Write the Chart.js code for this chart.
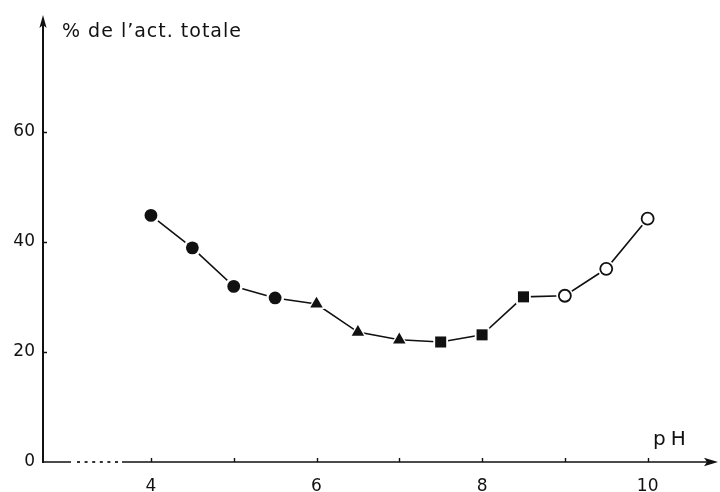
<!DOCTYPE html>
<html>
<head>
<meta charset="utf-8">
<script src="https://cdn.jsdelivr.net/npm/chart.js@4/dist/chart.umd.min.js"></script>
<style>
  html, body { margin: 0; padding: 0; background: #fff; }
  canvas { display: block; }
</style>
</head>
<body>
<canvas id="chart" width="720" height="492"></canvas>
<script>
// pH profile of the activity, as a percentage of the total activity
const phValues    = [4, 4.5, 5, 5.5, 6, 6.5, 7, 7.5, 8, 8.5, 9, 9.5, 10];
const activityPct = [44.8, 38.9, 31.9, 29.8, 28.7, 23.6, 22.2, 21.8, 23.1, 30.0, 30.2, 35.1, 44.2];
// buffer series each point belongs to (marker kind)
const markerKind  = ['disc', 'disc', 'disc', 'disc',
                     'triangle', 'triangle', 'triangle',
                     'square', 'square', 'square',
                     'ring', 'ring', 'ring'];

const xTickValues  = [4, 5, 6, 7, 8, 9, 10];
const xLabelValues = [4, 6, 8, 10];
const yTickValues  = [0, 20, 40, 60];
const yAxisTitle   = '% de l\u2019act. totale';
const xAxisTitle   = 'pH';

const INK  = '#111';
const FONT = "'DejaVu Sans', sans-serif";

const markerStyle = {
  disc:     { shape: 'circle',   r: 6.4, fill: INK,    border: INK, bw: 0 },
  triangle: { shape: 'triangle', r: 7.2, fill: INK,    border: INK, bw: 0 },
  square:   { shape: 'rect',     r: 7.8, fill: INK,    border: INK, bw: 0 },
  ring:     { shape: 'circle',   r: 6.0, fill: '#fff', border: INK, bw: 1.8 }
};
const HALO = 2.6;

const points = phValues.map((x, i) => ({ x, y: activityPct[i] }));
const st = markerKind.map(k => markerStyle[k]);

// axes with arrowheads, a broken pH axis, small ticks and the two axis captions
const handAxes = {
  id: 'handAxes',
  beforeDatasetsDraw(chart) {
    const { ctx, chartArea: a, scales: { x, y } } = chart;
    const x0 = a.left;
    const y0 = y.getPixelForValue(0);
    ctx.save();
    ctx.strokeStyle = INK;
    ctx.fillStyle = INK;
    ctx.lineCap = 'butt';

    // vertical axis
    ctx.lineWidth = 2;
    ctx.beginPath();
    ctx.moveTo(x0, y0 + 1);
    ctx.lineTo(x0, a.top + 8);
    ctx.stroke();
    ctx.beginPath();
    ctx.moveTo(x0, a.top);
    ctx.lineTo(x0 + 3.6, a.top + 13);
    ctx.lineTo(x0, a.top + 10);
    ctx.lineTo(x0 - 3.6, a.top + 13);
    ctx.closePath();
    ctx.fill();

    // horizontal axis: solid, dotted break, solid
    ctx.lineWidth = 1.7;
    ctx.beginPath();
    ctx.moveTo(x0, y0);
    ctx.lineTo(x0 + 28, y0);
    ctx.moveTo(x0 + 79, y0);
    ctx.lineTo(a.right - 8, y0);
    ctx.stroke();
    for (let dx = 34; dx <= 72; dx += 7.6) {
      ctx.fillRect(x0 + dx, y0 - 0.85, 3, 1.7);
    }
    ctx.beginPath();
    ctx.moveTo(a.right, y0);
    ctx.lineTo(a.right - 14, y0 - 4.2);
    ctx.lineTo(a.right - 11, y0);
    ctx.lineTo(a.right - 14, y0 + 4.2);
    ctx.closePath();
    ctx.fill();

    // tick marks
    ctx.lineWidth = 1.4;
    ctx.beginPath();
    xTickValues.forEach(v => {
      const px = Math.round(x.getPixelForValue(v)) + 0.5;
      ctx.moveTo(px, y0);
      ctx.lineTo(px, y0 - 4);
    });
    yTickValues.filter(v => v !== 0).forEach(v => {
      const py = Math.round(y.getPixelForValue(v)) + 0.5;
      ctx.moveTo(x0, py);
      ctx.lineTo(x0 + 4, py);
    });
    ctx.stroke();

    // captions
    ctx.textBaseline = 'middle';
    ctx.textAlign = 'left';
    ctx.font = `19px ${FONT}`;
    ctx.letterSpacing = '1px';
    ctx.fillText(yAxisTitle, x0 + 19, 32);
    ctx.font = `20px ${FONT}`;
    ctx.letterSpacing = '5px';
    ctx.fillText(xAxisTitle, 653, 440);
    ctx.restore();
  }
};

const noEdgePadding = s => {
  s.paddingLeft = 0; s.paddingRight = 0; s.paddingTop = 0; s.paddingBottom = 0;
};

new Chart(document.getElementById('chart'), {
  type: 'line',
  data: {
    datasets: [
      {
        // connecting line
        data: points,
        borderColor: INK,
        borderWidth: 1.6,
        pointRadius: 0,
        tension: 0,
        order: 3
      },
      {
        // white clearing round each marker
        data: points,
        showLine: false,
        pointStyle: st.map(s => s.shape),
        pointRadius: st.map(s => s.r + HALO),
        pointBackgroundColor: '#fff',
        pointBorderWidth: 0,
        order: 2
      },
      {
        // markers
        data: points,
        showLine: false,
        pointStyle: st.map(s => s.shape),
        pointRadius: st.map(s => s.r),
        pointBackgroundColor: st.map(s => s.fill),
        pointBorderColor: st.map(s => s.border),
        pointBorderWidth: st.map(s => s.bw),
        order: 1
      }
    ]
  },
  options: {
    responsive: false,
    devicePixelRatio: 1,
    animation: false,
    layout: { autoPadding: false, padding: { top: 15, right: 2, left: 0, bottom: 0 } },
    plugins: { legend: { display: false }, tooltip: { enabled: false }, title: { display: false } },
    scales: {
      x: {
        type: 'linear',
        min: 2.696,
        max: 10.85,
        grid: { display: false, drawTicks: false },
        border: { display: false },
        afterBuildTicks: s => { s.ticks = xTickValues.map(v => ({ value: v })); },
        afterFit: s => { s.height = 30; noEdgePadding(s); },
        ticks: {
          autoSkip: false,
          maxRotation: 0,
          padding: 14,
          color: INK,
          font: { family: FONT, size: 17 },
          callback: v => (xLabelValues.includes(v) ? String(v) : '')
        }
      },
      y: {
        min: 0,
        max: 81.2,
        grid: { display: false, drawTicks: false },
        border: { display: false },
        afterBuildTicks: s => { s.ticks = yTickValues.map(v => ({ value: v })); },
        afterFit: s => { s.width = 43; noEdgePadding(s); },
        ticks: {
          padding: 8,
          color: INK,
          font: { family: FONT, size: 17 }
        }
      }
    }
  },
  plugins: [handAxes]
});
</script>
</body>
</html>
